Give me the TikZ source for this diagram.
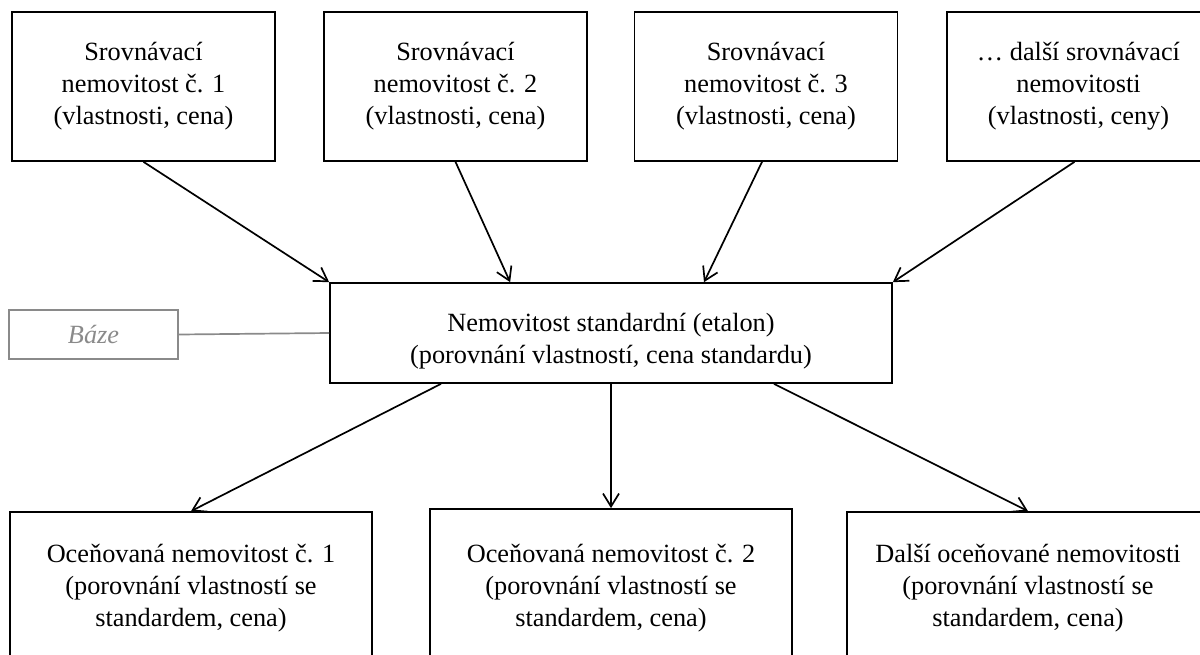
\documentclass[tikz,border=0pt]{standalone}
\usepackage{fontspec}
\setmainfont{Liberation Serif}
\usetikzlibrary{arrows.meta, positioning}
\usepackage{xcolor}
\definecolor{bazegray}{HTML}{8A8A8A}

\begin{document}
\begin{tikzpicture}[x=1pt, y=-1pt, font=\fontsize{26.3}{32}\selectfont]
            \tikzstyle{entity} = [rectangle, draw=black, line width=1.7pt, align=center, inner sep=0pt]
            \tikzstyle{srovbox} = [entity, minimum width=263pt, minimum height=149pt]
            \tikzstyle{ocenbox} = [entity, minimum width=362pt, minimum height=154pt]
            \tikzstyle{arrow} = [line width=1.7pt, -{Straight Barb[length=13pt, width=16pt]}]

            \useasboundingbox (0,0) rectangle (1200,654);

            % srovnavaci nemovitosti
            \node (srov1)[srovbox] at (143.5,86.5) {Srovnávací\\ nemovitost č. 1\\ (vlastnosti, cena)};
            \node (srov2)[srovbox] at (455.5,86.5) {Srovnávací\\ nemovitost č. 2\\ (vlastnosti, cena)};
            \node (srov3)[srovbox] at (766,86.5) {Srovnávací\\ nemovitost č. 3\\ (vlastnosti, cena)};
            \node (srov4)[srovbox] at (1078.5,86.5) {… další srovnávací\\ nemovitosti\\ (vlastnosti, ceny)};

            % standard
            \node (etalon)[entity, minimum width=562pt, minimum height=100pt] at (611,333) {\rule{0pt}{34pt}Nemovitost standardní (etalon)\\ (porovnání vlastností, cena standardu)};
            \node (baze)[entity, draw=bazegray, text=bazegray, minimum width=169pt, minimum height=49pt] at (93.5,334.5) {\itshape Báze};

            % ocenovane nemovitosti
            \node (ocen1)[ocenbox, minimum height=152pt] at (191,588) {Oceňovaná nemovitost č. 1\\ (porovnání vlastností se\\ standardem, cena)};
            \node (ocen2)[ocenbox, minimum height=158pt] at (611,588) {Oceňovaná nemovitost č. 2\\ (porovnání vlastností se\\ standardem, cena)};
            \node (ocen3)[ocenbox, minimum height=152pt] at (1028,588) {Další oceňované nemovitosti\\ (porovnání vlastností se\\ standardem, cena)};

            \draw [arrow] (srov1.south) -- (etalon.north west);
            \draw [arrow] (srov2.south) -- ([xshift=181pt]etalon.north west);
            \draw [arrow] ([xshift=-4pt]srov3.south) -- ([xshift=93pt]etalon.north);
            \draw [arrow] ([xshift=-4pt]srov4.south) -- (etalon.north east);
            \draw [line width=1.7pt, bazegray] (baze.east) -- (etalon.west);
            \draw [arrow] ([xshift=-170pt]etalon.south) -- (ocen1.north);
            \draw [arrow] (etalon.south) -- (ocen2.north);
            \draw [arrow] ([xshift=163pt]etalon.south) -- (ocen3.north);
        \end{tikzpicture}
\end{document}
